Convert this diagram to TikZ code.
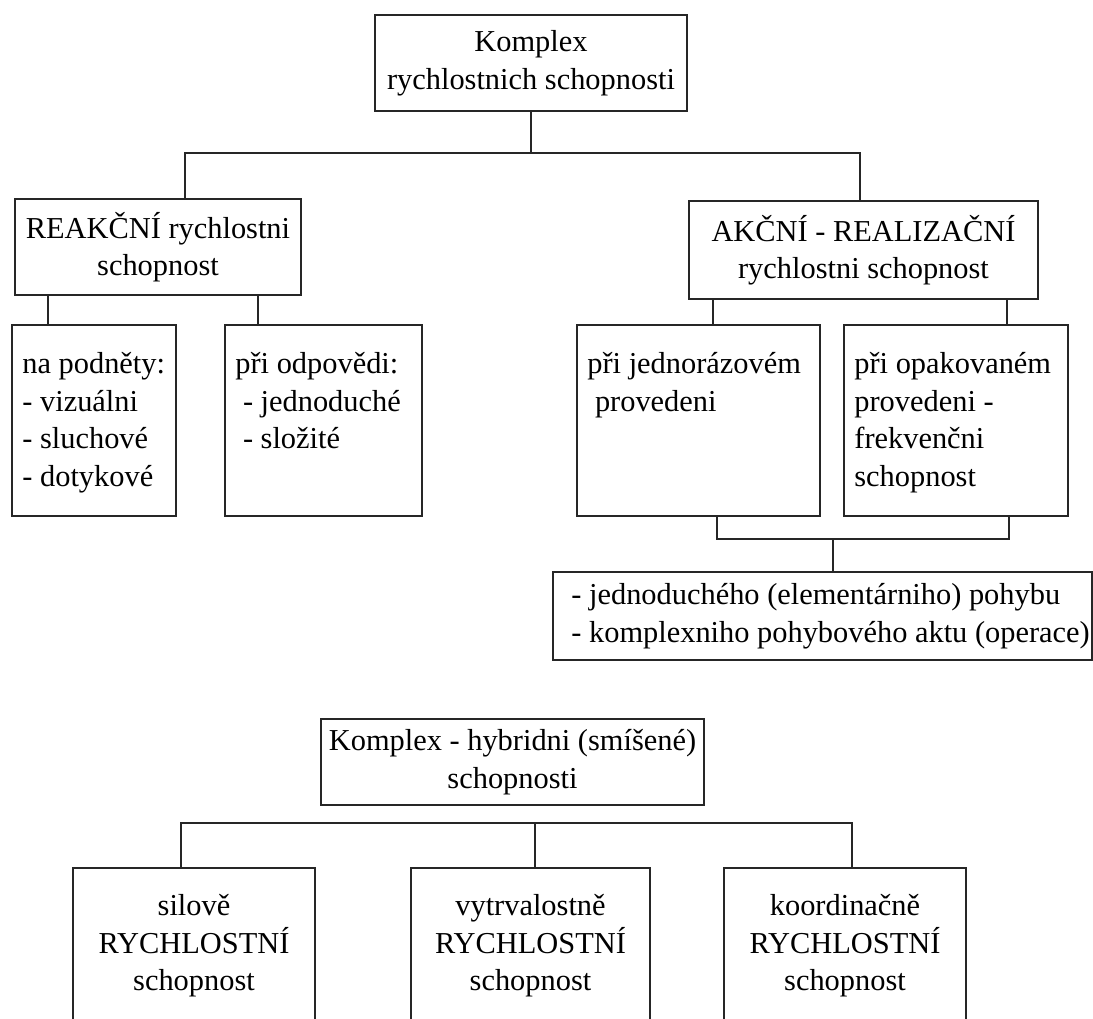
\documentclass[tikz,border=0pt]{standalone}
\usepackage{fontspec}
\setmainfont{Liberation Serif}
\usetikzlibrary{positioning}

\begin{document}
\begin{tikzpicture}[x=1pt,y=-1pt,
  box/.style={draw=black!85,line width=1.6pt,inner sep=0pt},
  txt/.style={inner sep=0pt,align=center,font=\fontsize{30.4}{37.5}\selectfont},
  ltxt/.style={inner sep=0pt,align=left,anchor=north west,font=\fontsize{30.4}{37.5}\selectfont},
  con/.style={draw=black!85,line width=1.6pt}]
\useasboundingbox (0,0) rectangle (1093,1018);
\clip (0,0) rectangle (1093,1018);
\def\pad{11pt};
\def\ind{\hspace*{0.25em}};

% upper tree
\node[box,txt,minimum width=312pt,minimum height=96pt] (kompl) at (531,63) {Komplex\\rychlostnich schopnosti};
\node[box,txt,minimum width=286pt,minimum height=96pt] (reak) at (158,247) {REAKČNÍ rychlostni\\schopnost};
\node[box,txt,minimum width=349pt,minimum height=98pt] (akc) at (863.5,250) {AKČNÍ - REALIZAČNÍ\\rychlostni schopnost};

\node[box,minimum width=164pt,minimum height=191pt] (podn) at (94,420.5) {};
\node[box,minimum width=197pt,minimum height=191pt] (odp) at (323.5,420.5) {};
\node[box,minimum width=243pt,minimum height=191pt] (jed) at (698.5,420.5) {};
\node[box,minimum width=224pt,minimum height=191pt] (opa) at (956,420.5) {};
\node[box,minimum width=539pt,minimum height=88pt] (pohyb) at (822.5,616) {};

\node[ltxt] (podnt) at ([shift={(\pad,-28pt)}]podn.north west) {na podněty:\\- vizuálni\\- sluchové\\- dotykové};
\node[ltxt] (odpt) at ([shift={(\pad,-28pt)}]odp.north west) {při odpovědi:\\\ind- jednoduché\\\ind- složité};
\node[ltxt] (jedt) at ([shift={(\pad,-28pt)}]jed.north west) {při jednorázovém\\\ind provedeni};
\node[ltxt] (opat) at ([shift={(\pad,-28pt)}]opa.north west) {při opakovaném\\provedeni -\\frekvenčni\\schopnost};
\node[ltxt,anchor=west] (pohybt) at ([xshift=19pt]pohyb.west) {- jednoduchého (elementárniho) pohybu\\- komplexniho pohybového aktu (operace)};

\coordinate (tbar) at (531,153);
\draw[con] (kompl.south) -- (tbar);
\draw[con] ([xshift=27pt]reak.north) |- (tbar) -| ([xshift=-3.5pt]akc.north);
\draw[con] ([xshift=37pt]podn.north west) coordinate (p1) -- (p1 |- reak.south);
\draw[con] ([xshift=34pt]odp.north west) coordinate (p2) -- (p2 |- reak.south);
\draw[con] ([xshift=136.5pt]jed.north west) coordinate (p3) -- (p3 |- akc.south);
\draw[con] ([xshift=164pt]opa.north west) coordinate (p4) -- (p4 |- akc.south);

\coordinate (bbar) at (833,539);
\draw[con] ([xshift=141pt]jed.south west) |- (bbar) -| ([xshift=165.5pt]opa.south west);
\draw[con] (bbar) -- (bbar |- pohyb.north);

% lower tree
\node[box,txt,minimum width=383pt,minimum height=86pt] (hyb) at (512.5,762) {Komplex - hybridni (smíšené)\\schopnosti};
\node[box,minimum width=242pt,minimum height=300pt] (sil) at (194,1018) {};
\node[box,minimum width=239pt,minimum height=300pt] (vyt) at (530.5,1018) {};
\node[box,minimum width=242pt,minimum height=300pt] (koo) at (845,1018) {};

\node[txt,anchor=north] (silt) at ([yshift=-27pt]sil.north) {silově\\RYCHLOSTNÍ\\schopnost};
\node[txt,anchor=north] (vytt) at ([yshift=-27pt]vyt.north) {vytrvalostně\\RYCHLOSTNÍ\\schopnost};
\node[txt,anchor=north] (koot) at ([yshift=-27pt]koo.north) {koordinačně\\RYCHLOSTNÍ\\schopnost};

\coordinate (hbar) at (535,823);
\draw[con] ([xshift=-13pt]sil.north) |- (hbar) -| ([xshift=7pt]koo.north);
\draw[con] (hbar) -- (hbar |- vyt.north);
\end{tikzpicture}
\end{document}
